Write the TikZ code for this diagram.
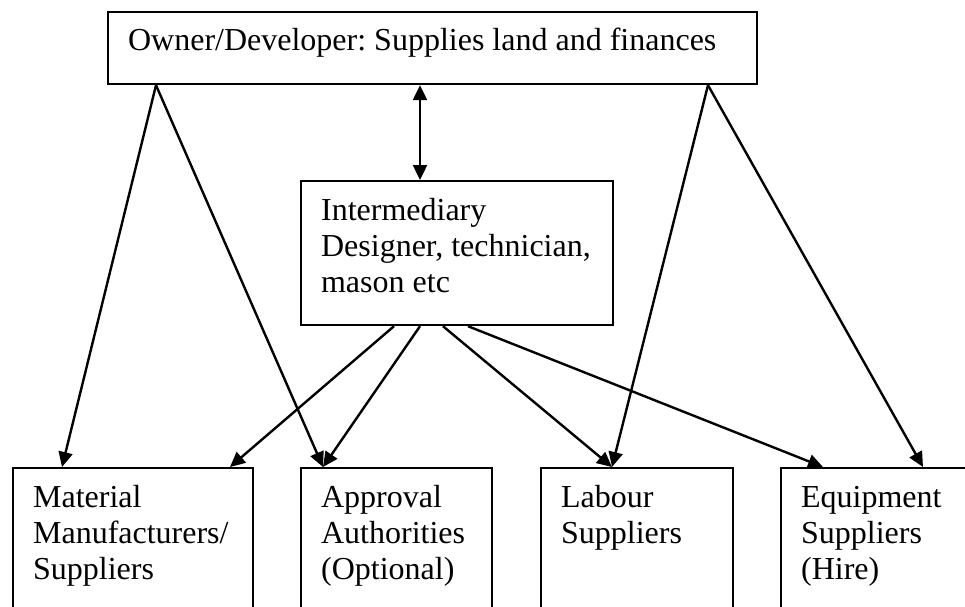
\documentclass[tikz,border=0pt]{standalone}
\usepackage{fontspec}
\setmainfont{Liberation Serif}
\usetikzlibrary{arrows.meta, calc}
\frenchspacing

\begin{document}
\begin{tikzpicture} [x = 0.5pt, y = -0.5pt,
	>={Triangle[length = 7.5pt, width = 7pt]},
	every node/.style = {font = \fontsize{16}{18.15}\selectfont},
	boxStyle/.style = {draw, line width = 1.1pt, anchor = north west, inner ysep = 0pt, inner xsep = 10pt, align = flush left, text height = 19.5pt},
	linkArrow/.style = {line width = 1.2pt, ->}]

	\clip (0, 0) rectangle (965, 606);

		% Define boxes.

	%owner
	\node[boxStyle, text width = 304.5pt, text height = 19pt, text depth = 17pt] (ownerBox) at (107, 11) {Owner/Developer: Supplies land and finances};

	%intermediary
	\node[boxStyle, text width = 136pt, text depth = 52.5pt] (interBox) at (300, 180) {Intermediary\\Designer, technician,\\mason etc};

	%bottom row
	\node[boxStyle, text width = 100pt, text depth = 57pt] (materialBox) at (12, 467) {Material\\Manufacturers/\\Suppliers};
	\node[boxStyle, text width = 75.5pt, text depth = 57pt] (approvalBox) at (300, 467) {Approval\\Authorities\\(Optional)};
	\node[boxStyle, text width = 76pt, text depth = 57pt] (labourBox) at (540, 467) {Labour\\Suppliers};
	\node[boxStyle, text width = 76pt, text depth = 57pt] (equipmentBox) at (780, 467) {Equipment\\Suppliers\\(Hire)};

% Draw arrows.

	%owner and intermediary
	\draw[linkArrow, <->] ($(ownerBox.south west) + (313, 0)$) -- ($(interBox.north west) + (120, 0)$);

	%from owner
	\draw[linkArrow] ($(ownerBox.south west) + (49, 0)$) -- ($(materialBox.north west) + (50, 0)$);
	\draw[linkArrow] ($(ownerBox.south west) + (49, 0)$) -- ($(approvalBox.north west) + (23, 0)$);
	\draw[linkArrow] ($(ownerBox.south west) + (601, 0)$) -- ($(labourBox.north west) + (72, 0)$);
	\draw[linkArrow] ($(ownerBox.south west) + (601, 0)$) -- ($(equipmentBox.north west) + (143, 0)$);

	%from intermediary
	\draw[linkArrow] ($(interBox.south west) + (94, 0)$) -- ($(materialBox.north west) + (218, 0)$);
	\draw[linkArrow] ($(interBox.south west) + (120, 0)$) -- ($(approvalBox.north west) + (23, 0)$);
	\draw[linkArrow] ($(interBox.south west) + (143, 0)$) -- ($(labourBox.north west) + (72, 0)$);
	\draw[linkArrow] ($(interBox.south west) + (168, 0)$) -- ($(equipmentBox.north west) + (43, 0)$);

	\end{tikzpicture}
\end{document}
